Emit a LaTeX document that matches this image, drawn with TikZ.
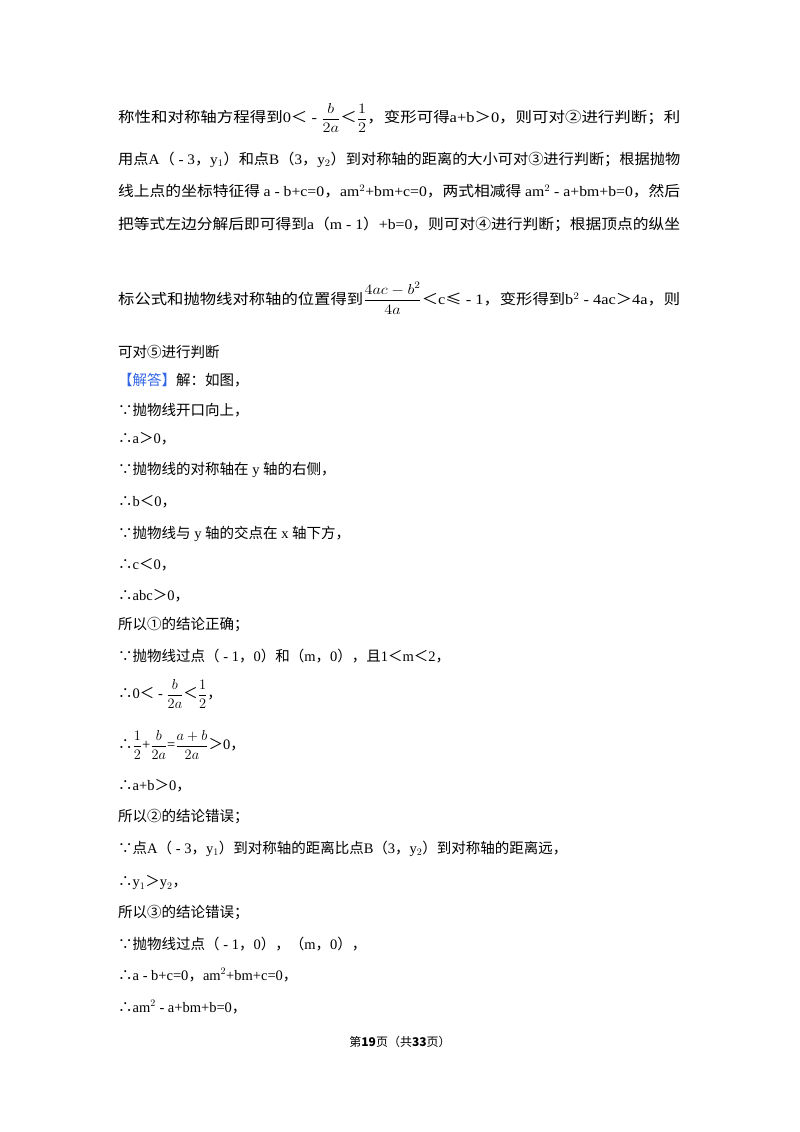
\documentclass[tikz,border=0pt]{standalone}
\usepackage{fontspec}
\usepackage{graphicx}
\setmainfont{Noto Sans CJK SC}
\newfontfamily\lt{Liberation Serif}
\newcommand{\ms}[1]{{\lt #1}}
\newcommand{\fr}[2]{$\displaystyle\frac{\ms{#1}}{\ms{#2}}$}
\newcommand{\jl}[1]{\resizebox{562pt}{\height}{#1}}
\begin{document}
\begin{tikzpicture}[x=1pt,y=-1pt,line/.style={anchor=west,inner sep=0pt,font=\fontsize{14.5}{16}\selectfont}]
\useasboundingbox (0,0) rectangle (800,1132);
\fill[white] (0,0) rectangle (800,1132);
\node[line] (l1) at (118,118) {\jl{称性和对称轴方程得到\ms{0}＜\ms{ - }\fr{b}{2a}＜\fr{1}{2}，变形可得\ms{a+b}＞\ms{0}，则可对②进行判断；利}};
\node[line] (l2) at (118,160) {\jl{用点\ms{A}（\ms{ - 3}，\ms{y$_1$}）和点\ms{B}（\ms{3}，\ms{y$_2$}）到对称轴的距离的大小可对③进行判断；根据抛物}};
\node[line] (l3) at (118,191) {\jl{线上点的坐标特征得 \ms{a - b+c=0}，\ms{am$^2$+bm+c=0}，两式相减得 \ms{am$^2$ - a+bm+b=0}，然后}};
\node[line] (l4) at (118,224) {\jl{把等式左边分解后即可得到\ms{a}（\ms{m - 1}）\ms{+b=0}，则可对④进行判断；根据顶点的纵坐}};
\node[line] (l5) at (118,298) {\jl{标公式和抛物线对称轴的位置得到$\displaystyle\frac{\ms{4ac - b}^{\ms{2}}}{\ms{4a}}$＜\ms{c}≤\ms{ - 1}，变形得到\ms{b$^2$ - 4ac}＞\ms{4a}，则}};
\node[line] (l6) at (118,352) {可对⑤进行判断};
\node[line] (l7) at (118,380) {\textcolor[rgb]{0.2,0.4,0.9}{【解答】}解：如图，};
\node[line] (l8) at (118,410) {∵抛物线开口向上，};
\node[line] (l9) at (118,439) {∴\ms{a}＞\ms{0}，};
\node[line] (l10) at (118,470) {∵抛物线的对称轴在\ms{ y }轴的右侧，};
\node[line] (l11) at (118,502) {∴\ms{b}＜\ms{0}，};
\node[line] (l12) at (118,534) {∵抛物线与\ms{ y }轴的交点在\ms{ x }轴下方，};
\node[line] (l13) at (118,565) {∴\ms{c}＜\ms{0}，};
\node[line] (l14) at (118,596) {∴\ms{abc}＞\ms{0}，};
\node[line] (l15) at (118,625) {所以①的结论正确；};
\node[line] (l16) at (118,656) {∵抛物线过点（\ms{ - 1}，\ms{0}）和（\ms{m}，\ms{0}），且\ms{1}＜\ms{m}＜\ms{2}，};
\node[line] (l17) at (118,694) {∴\ms{0}＜\ms{ - }\fr{b}{2a}＜\fr{1}{2}，};
\node[line] (l18) at (118,745) {∴\fr{1}{2}\ms{+}\fr{b}{2a}\ms{=}\fr{a+b}{2a}＞\ms{0}，};
\node[line] (l19) at (118,786) {∴\ms{a+b}＞\ms{0}，};
\node[line] (l20) at (118,817) {所以②的结论错误；};
\node[line] (l21) at (118,849) {∵点\ms{A}（\ms{ - 3}，\ms{y$_1$}）到对称轴的距离比点\ms{B}（\ms{3}，\ms{y$_2$}）到对称轴的距离远，};
\node[line] (l22) at (118,883) {∴\ms{y$_1$}＞\ms{y$_2$}，};
\node[line] (l23) at (118,913) {所以③的结论错误；};
\node[line] (l24) at (118,944) {∵抛物线过点（\ms{ - 1}，\ms{0}），（\ms{m}，\ms{0}），};
\node[line] (l25) at (118,975) {∴\ms{a - b+c=0}，\ms{am$^2$+bm+c=0}，};
\node[line] (l26) at (118,1007) {∴\ms{am$^2$ - a+bm+b=0}，};
\node[inner sep=0pt,font=\fontsize{12}{14}\selectfont] (ft) at (400,1042) {第\textbf{19}页（共\textbf{33}页）};
\end{tikzpicture}
\end{document}
